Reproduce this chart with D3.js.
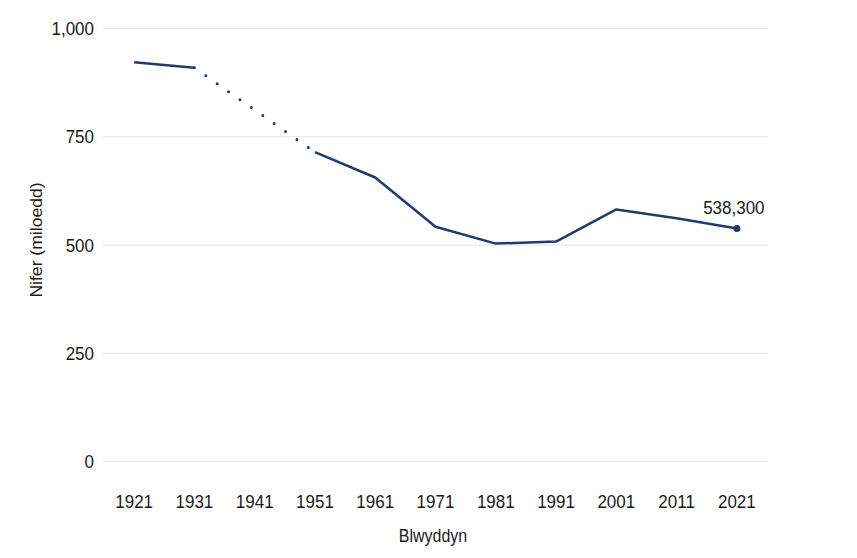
<!DOCTYPE html>
<html>
<head>
<meta charset="utf-8">
<script src="https://cdn.jsdelivr.net/npm/d3@7"></script>
<style>
  html, body { margin: 0; padding: 0; background: #fff; }
  text { font-family: "Liberation Sans", Arial, sans-serif; fill: #1a1a1a; }
</style>
</head>
<body>
<svg id="chart" width="857" height="558"></svg>
<script>
// Data
const years = ["1921","1931","1941","1951","1961","1971","1981","1991","2001","2011","2021"];
const speakers = [922.1, 909.3, null, 714.7, 656.0, 542.4, 503.5, 508.1, 582.4, 562.0, 538.3]; // thousands
const yTicks = [0, 250, 500, 750, 1000];
const endLabel = "538,300";
const xTitle = "Blwyddyn";
const yTitle = "Nifer (miloedd)";

const svg = d3.select("#chart");
const x = d3.scalePoint().domain(years).range([104, 767]).padding(0.5);
const y = d3.scaleLinear().domain([0, 1000]).range([461.7, 28.5]);

const fmt = d3.format(",");
// gridlines
svg.append("g").selectAll("line").data(yTicks).join("line")
  .attr("x1", 103).attr("x2", 768)
  .attr("y1", d => y(d)).attr("y2", d => y(d))
  .attr("stroke", "#e3e3e3").attr("stroke-width", 1);

// y tick labels (slightly stretched vertically like the reference)
svg.append("g").selectAll("text").data(yTicks).join("text")
  .attr("transform", d => `translate(94,${y(d)}) scale(1,1.1)`)
  .attr("dy", "0.35em")
  .attr("text-anchor", "end").attr("font-size", 17)
  .text(d => fmt(d));

// x tick labels
svg.append("g").selectAll("text").data(years).join("text")
  .attr("transform", d => `translate(${x(d)},508) scale(1,1.1)`)
  .attr("text-anchor", "middle").attr("font-size", 17)
  .text(d => d);

// axis titles
svg.append("text").attr("transform", "translate(433,542) scale(1,1.1)").attr("text-anchor", "middle")
  .attr("font-size", 16).text(xTitle);
svg.append("text").attr("transform", "translate(42,240) rotate(-90) scale(1.1,1)")
  .attr("text-anchor", "middle").attr("font-size", 16).text(yTitle);

const color = "#1f3b6f";
const pts = years.map((yr, i) => ({yr, v: speakers[i]}));
const line = d3.line().defined(d => d.v != null).x(d => x(d.yr)).y(d => y(d.v));

// dotted gap segment (between known points around missing data)
const gapIdx = pts.findIndex(d => d.v == null);
const gapSeg = [pts[gapIdx - 1], pts[gapIdx + 1]];
svg.append("path").datum(gapSeg)
  .attr("d", d3.line().x(d => x(d.yr)).y(d => y(d.v)))
  .attr("fill", "none").attr("stroke", "#2a3550")
  .attr("stroke-width", 3).attr("stroke-linecap", "round")
  .attr("stroke-dasharray", "0 13.9");

// solid line
svg.append("path").datum(pts)
  .attr("d", line)
  .attr("fill", "none").attr("stroke", color)
  .attr("stroke-width", 2.5).attr("stroke-linejoin", "round");

// end point
const last = pts[pts.length - 1];
svg.append("circle").attr("cx", x(last.yr)).attr("cy", y(last.v)).attr("r", 3.5).attr("fill", color);
svg.append("text").attr("transform", `translate(${x(last.yr) - 3},214) scale(1,1.1)`)
  .attr("text-anchor", "middle").attr("font-size", 17).text(endLabel);
</script>
</body>
</html>
